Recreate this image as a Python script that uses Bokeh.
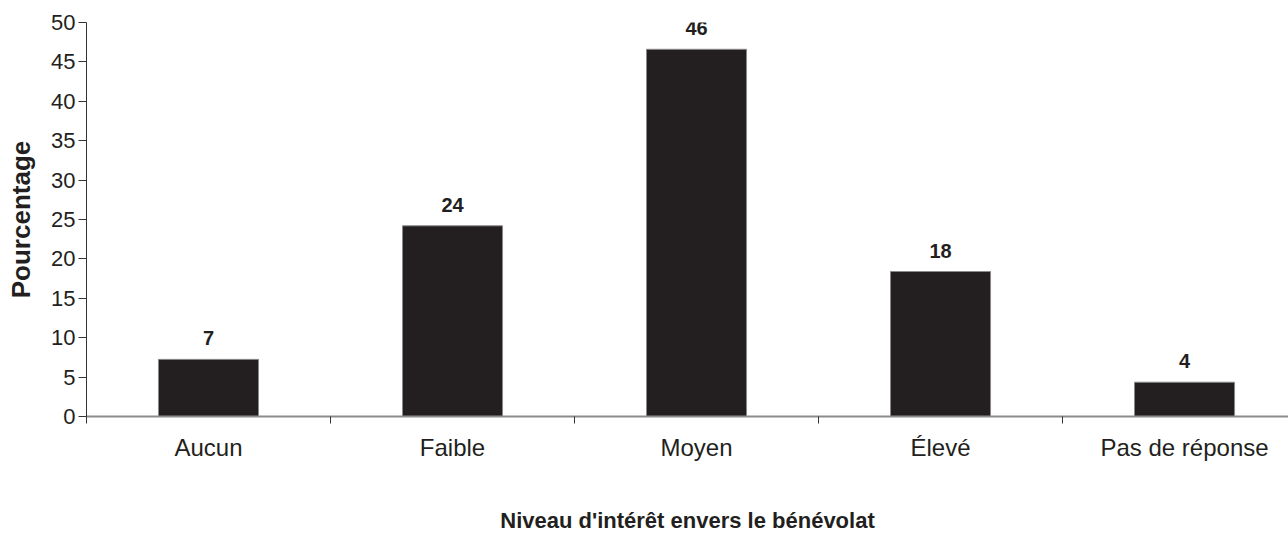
from bokeh.plotting import figure
from bokeh.models import ColumnDataSource, FixedTicker, Range1d
from bokeh.core.properties import value
from bokeh.embed import file_html
from bokeh.resources import INLINE

categories = ["Aucun", "Faible", "Moyen", "Élevé", "Pas de réponse"]
values = [7.25, 24.2, 46.6, 18.4, 4.35]
labels = ["7", "24", "46", "18", "4"]

FONT = "Liberation Sans"
DARK = "#231f20"

xpos = [i + 0.5 for i in range(len(categories))]
src = ColumnDataSource(dict(x=xpos, top=values, lab=labels))

p = figure(width=1288, height=535, output_backend="svg", toolbar_location=None,
           x_range=Range1d(0, 4.926), y_range=Range1d(0, 50),
           min_border_left=86, min_border_right=0, min_border_top=22, min_border_bottom=110)
p.outline_line_color = None
p.xgrid.grid_line_color = None
p.ygrid.grid_line_color = None
p.background_fill_color = "white"
p.border_fill_color = "white"

p.vbar(x="x", top="top", bottom=0, width=0.41, source=src,
       fill_color=DARK, line_color="#8a8a8a", line_width=1)

p.text(x="x", y="top", text="lab", source=src, text_align="center",
       text_baseline="alphabetic", y_offset=-21,
       text_font=value(FONT), text_font_size="20px", text_font_style="bold",
       text_color=DARK)

# x axis
xa = p.xaxis[0]
xa.ticker = FixedTicker(ticks=xpos, minor_ticks=[0, 1, 2, 3, 4])
xa.major_label_overrides = {x: c for x, c in zip(xpos, categories)}
xa.major_tick_line_color = None
xa.major_tick_out = 0
xa.major_tick_in = 0
xa.minor_tick_line_color = "#333333"
xa.minor_tick_out = 7
xa.minor_tick_in = 0
xa.axis_line_color = "#8c8c8c"
xa.axis_line_width = 2
xa.major_label_text_font = FONT
xa.major_label_text_font_size = "24px"
xa.major_label_text_color = DARK
xa.major_label_standoff = 10
xa.axis_label = "Niveau d'intérêt envers le bénévolat"
xa.axis_label_text_font = FONT
xa.axis_label_text_font_size = "22px"
xa.axis_label_text_font_style = "bold"
xa.axis_label_text_color = DARK
xa.axis_label_standoff = 44

# y axis
ya = p.yaxis[0]
ya.ticker = FixedTicker(ticks=list(range(0, 51, 5)))
ya.minor_tick_line_color = None
ya.major_tick_out = 8
ya.major_tick_in = 0
ya.major_tick_line_color = "#333333"
ya.axis_line_color = "#333333"
ya.axis_line_width = 1
ya.major_label_text_font = FONT
ya.major_label_text_font_size = "22px"
ya.major_label_text_color = DARK
ya.major_label_standoff = 3
ya.axis_label = "Pourcentage"
ya.axis_label_text_font = FONT
ya.axis_label_text_font_size = "26px"
ya.axis_label_text_font_style = "bold"
ya.axis_label_text_color = DARK
ya.axis_label_standoff = 12

open("out.html", "w").write(file_html(p, INLINE))
